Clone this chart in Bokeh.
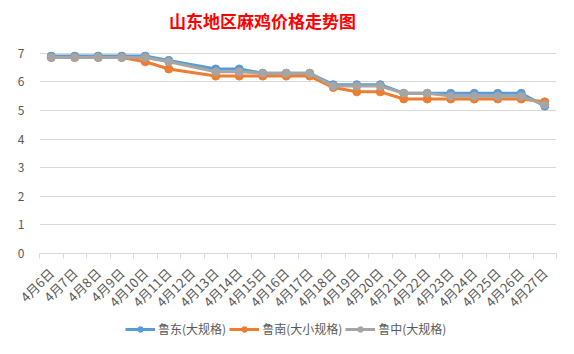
from bokeh.plotting import figure
from bokeh.layouts import column
from bokeh.models import FixedTicker, Legend, LegendItem, Range1d
from bokeh.embed import file_html
from bokeh.resources import INLINE

# ---- data ----
dates = ["4月6日", "4月7日", "4月8日", "4月9日", "4月10日", "4月11日", "4月12日",
         "4月13日", "4月14日", "4月15日", "4月16日", "4月17日", "4月18日", "4月19日",
         "4月20日", "4月21日", "4月22日", "4月23日", "4月24日", "4月25日", "4月26日",
         "4月27日"]
ludong = [6.9, 6.9, 6.9, 6.9, 6.9, 6.75, None, 6.45, 6.45, 6.3, 6.3, 6.3,
          5.9, 5.9, 5.9, 5.6, 5.6, 5.6, 5.6, 5.6, 5.6, 5.15]
lunan = [6.85, 6.85, 6.85, 6.85, 6.7, 6.45, None, 6.2, 6.2, 6.2, 6.2, 6.2,
         5.8, 5.65, 5.65, 5.4, 5.4, 5.4, 5.4, 5.4, 5.4, 5.3]
luzhong = [6.85, 6.85, 6.85, 6.85, 6.85, 6.7, None, 6.35, 6.35, 6.3, 6.3, 6.3,
           5.85, 5.85, 5.85, 5.6, 5.6, 5.5, 5.5, 5.5, 5.5, 5.2]
series_names = ["鲁东(大规格)", "鲁南(大小规格)", "鲁中(大规格)"]
series_colors = ["#5B9BD5", "#ED7D31", "#A5A5A5"]
y_ticks = [0, 1, 2, 3, 4, 5, 6, 7]
title_text = "山东地区麻鸡价格走势图"

FONT = "Noto Sans CJK SC"
n = len(dates)


def strip(height):
    s = figure(width=574, height=height, output_backend="svg",
               toolbar_location=None, x_range=Range1d(0, 1),
               y_range=Range1d(0, 1), min_border=0)
    s.axis.visible = False
    s.grid.visible = False
    s.outline_line_color = None
    s.border_fill_color = "white"
    s.background_fill_color = "white"
    return s


# title strip
ts = strip(43)
tr = ts.line([-5, -4], [-5, -5], line_alpha=0)
title_legend = Legend(items=[LegendItem(label=title_text, renderers=[tr])],
                      location=(129, 10), label_text_font=FONT,
                      label_text_font_size="17px", label_text_font_style="bold",
                      label_text_color="#FF0000", glyph_width=1, glyph_height=20,
                      label_height=20, label_standoff=0, padding=0, margin=0,
                      border_line_color=None, background_fill_alpha=0)
ts.add_layout(title_legend, "center")

# main chart
p = figure(width=574, height=277, output_backend="svg", toolbar_location=None,
           x_range=Range1d(-0.5, n - 0.5), y_range=Range1d(0, 7.06),
           min_border_left=39, min_border_right=18, min_border_top=8,
           min_border_bottom=67)
p.background_fill_color = "white"
p.border_fill_color = "white"
p.outline_line_color = None

for name, vals, col in zip(series_names, [ludong, lunan, luzhong], series_colors):
    xs = [i for i, v in enumerate(vals) if v is not None]
    ys = [v for v in vals if v is not None]
    p.line(xs, ys, line_color=col, line_width=3)
    p.scatter(xs, ys, size=8, fill_color=col, line_color=col)

xa = p.xaxis[0]
xa.ticker = FixedTicker(ticks=list(range(n)),
                        minor_ticks=[i - 0.5 for i in range(n + 1)])
xa.major_label_overrides = {i: d for i, d in enumerate(dates)}
xa.major_label_orientation = 0.785398
xa.major_tick_line_color = None
xa.minor_tick_line_color = "#D9D9D9"
xa.minor_tick_out = 5
xa.minor_tick_in = 0
xa.axis_line_color = "#D9D9D9"
xa.major_label_text_font = FONT
xa.major_label_text_font_size = "13px"
xa.major_label_text_color = "#595959"
xa.major_label_standoff = 11

ya = p.yaxis[0]
ya.ticker = FixedTicker(ticks=y_ticks)
ya.axis_line_color = None
ya.major_tick_line_color = None
ya.minor_tick_line_color = None
ya.major_label_text_font = FONT
ya.major_label_text_font_size = "12px"
ya.major_label_text_color = "#595959"
ya.major_label_standoff = 9

p.xgrid.grid_line_color = None
p.ygrid.grid_line_color = "#D9D9D9"
p.ygrid.ticker = FixedTicker(ticks=y_ticks)

# legend strip under the chart
lg = strip(34)
items = []
for name, col in zip(series_names, series_colors):
    ln = lg.line([-5, -4], [-5, -5], line_color=col, line_width=3)
    sc = lg.scatter([-5], [-5], size=8, fill_color=col, line_color=col)
    items.append(LegendItem(label=name, renderers=[ln, sc]))
legend = Legend(items=items, orientation="horizontal", location=(86, 17),
                label_text_font=FONT, label_text_font_size="12px",
                label_text_color="#595959", glyph_width=30, glyph_height=14,
                spacing=3, padding=2, margin=0, border_line_color=None,
                background_fill_alpha=0, label_standoff=3)
lg.add_layout(legend, "center")

layout = column(ts, p, lg, spacing=0)
open("out.html", "w").write(file_html(layout, INLINE))
